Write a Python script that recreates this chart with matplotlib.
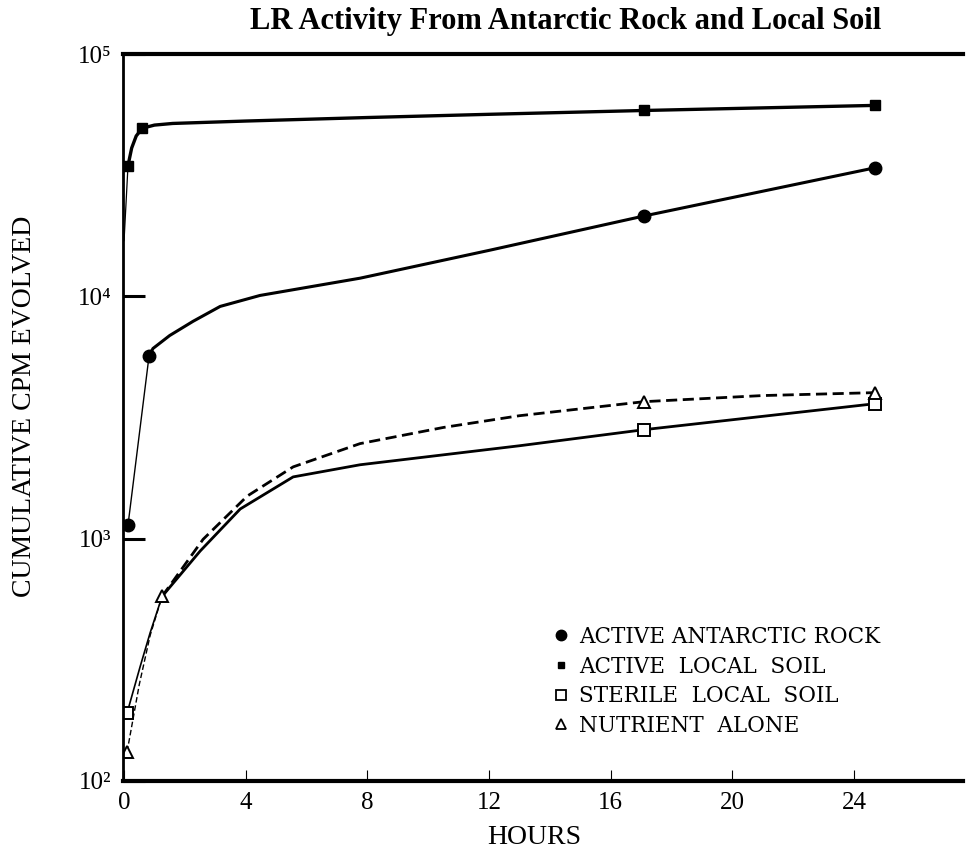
import matplotlib

matplotlib.use('Agg')
import matplotlib.pyplot as plt
from matplotlib.lines import Line2D
from matplotlib.ticker import NullLocator

plt.rcParams['font.family'] = ['Liberation Serif', 'DejaVu Serif']

rock_hours = [0.13, 0.82, 17.1, 24.7]
rock_cpm = [1140, 5660, 21500, 34000]
soil_hours = [0.13, 0.6, 17.1, 24.7]
soil_cpm = [34700, 49800, 58600, 61500]
sterile_hours = [0.1, 17.1, 24.7]
sterile_cpm = [191, 2820, 3610]
nutrient_hours = [0.1, 1.25, 17.1, 24.7]
nutrient_cpm = [132, 578, 3680, 4010]

# hand drawn curves
rock_curve_hours = [0.82, 0.95, 1.5, 2.27, 3.16, 4.47, 7.76, 12.0, 17.1, 24.7]
rock_curve_cpm = [5660, 6100, 6900, 7900, 9100, 10100, 11900, 15500, 21500, 34000]
soil_lead_hours = [0.0, 0.13]
soil_lead_cpm = [17000, 34700]
soil_curve_hours = [0.13, 0.25, 0.4, 0.6, 1.0, 1.6, 4.0, 8.0, 12.0, 17.1, 24.7]
soil_curve_cpm = [34700, 41000, 46000, 49500, 51000, 51800, 53000, 54800, 56500, 58600, 61500]
sterile_curve_hours = [0.1, 0.53, 0.86, 1.25, 2.5, 3.82, 5.56, 7.76, 13.0, 17.1, 24.7]
sterile_curve_cpm = [191, 297, 410, 578, 889, 1327, 1800, 2020, 2420, 2820, 3610]
nutrient_curve_hours = [0.1, 0.5, 0.86, 1.25, 2.6, 4.05, 5.56, 7.76, 10.5, 13.0, 17.1, 21.0, 24.7]
nutrient_curve_cpm = [132, 250, 400, 578, 995, 1500, 1980, 2470, 2880, 3220, 3680, 3900, 4010]

x_ticks = [0, 4, 8, 12, 16, 20, 24]
y_ticks = [1e2, 1e3, 1e4, 1e5]
y_tick_labels = ['10²', '10³', '10⁴', '10⁵']
legend_labels = ['ACTIVE ANTARCTIC ROCK', 'ACTIVE  LOCAL  SOIL',
                 'STERILE  LOCAL  SOIL', 'NUTRIENT  ALONE']

fig = plt.figure(figsize=(9.71, 8.57), dpi=100)
ax = fig.add_axes([0.1262, 0.0887, 0.866, 0.848])
ax.set_yscale('log')
ax.set_xlim(-0.05, 27.6)
ax.set_ylim(1e2, 1e5)

# thin lead-in segments, thick curves
ax.plot(rock_hours[:2], rock_cpm[:2], color='k', lw=1.0)
ax.plot(rock_curve_hours, rock_curve_cpm, color='k', lw=2.2)
ax.plot(soil_lead_hours, soil_lead_cpm, color='k', lw=0.9)
ax.plot(soil_curve_hours, soil_curve_cpm, color='k', lw=2.4)
ax.plot(sterile_curve_hours[:4], sterile_curve_cpm[:4], color='k', lw=1.2)
ax.plot(sterile_curve_hours[3:], sterile_curve_cpm[3:], color='k', lw=2.0)
ax.plot(nutrient_curve_hours[:4], nutrient_curve_cpm[:4], color='k', lw=1.0,
        linestyle=(0, (4, 2)))
ax.plot(nutrient_curve_hours[3:], nutrient_curve_cpm[3:], color='k', lw=2.0,
        linestyle=(0, (4, 2)))

ax.plot(rock_hours, rock_cpm, 'o', color='k', ms=9, ls='none')
ax.plot(soil_hours, soil_cpm, 's', color='k', ms=7.5, ls='none')
ax.plot(sterile_hours, sterile_cpm, 's', mfc='white', mec='k', mew=1.4,
        ms=8, ls='none')
ax.plot(nutrient_hours, nutrient_cpm, '^', mfc='white', mec='k', mew=1.4,
        ms=8.5, ls='none')

ax.spines['right'].set_visible(False)
ax.spines['left'].set_linewidth(2.0)
ax.spines['bottom'].set_linewidth(3.0)
ax.spines['top'].set_linewidth(3.0)

ax.set_xticks(x_ticks)
ax.set_xticklabels([str(t) for t in x_ticks])
ax.set_yticks(y_ticks)
ax.set_yticklabels(y_tick_labels)
ax.yaxis.set_minor_locator(NullLocator())
ax.tick_params(axis='x', direction='in', length=8, width=0.8, pad=8,
               labelsize=18)
ax.tick_params(axis='y', direction='in', length=16, width=2.2, pad=8,
               labelsize=18)

fig.text(566 / 971, 1 - 22 / 857, 'LR Activity From Antarctic Rock and Local Soil',
         ha='center', va='center', fontsize=22, fontweight='bold')
fig.text(25 / 971, 1 - 406 / 857, 'CUMULATIVE CPM EVOLVED', rotation=90,
         ha='center', va='center', fontsize=20)
fig.text(534 / 971, 1 - 838 / 857, 'HOURS', ha='center', va='center',
         fontsize=20)

handles = [
    Line2D([], [], marker='o', color='k', ls='none', ms=7.5),
    Line2D([], [], marker='s', color='k', ls='none', ms=5),
    Line2D([], [], marker='s', mfc='white', mec='k', mew=1.3, ls='none', ms=7),
    Line2D([], [], marker='^', mfc='white', mec='k', mew=1.3, ls='none', ms=7),
]
ax.legend(handles, legend_labels, loc='upper left',
          bbox_to_anchor=(552 / 971, 1 - 626 / 857),
          bbox_transform=fig.transFigure, frameon=False,
          prop={'family': 'DejaVu Serif', 'size': 15.5},
          handlelength=0.8, handletextpad=0.45, labelspacing=0.35,
          borderpad=0, borderaxespad=0)

fig.savefig('out.png', dpi=100)
